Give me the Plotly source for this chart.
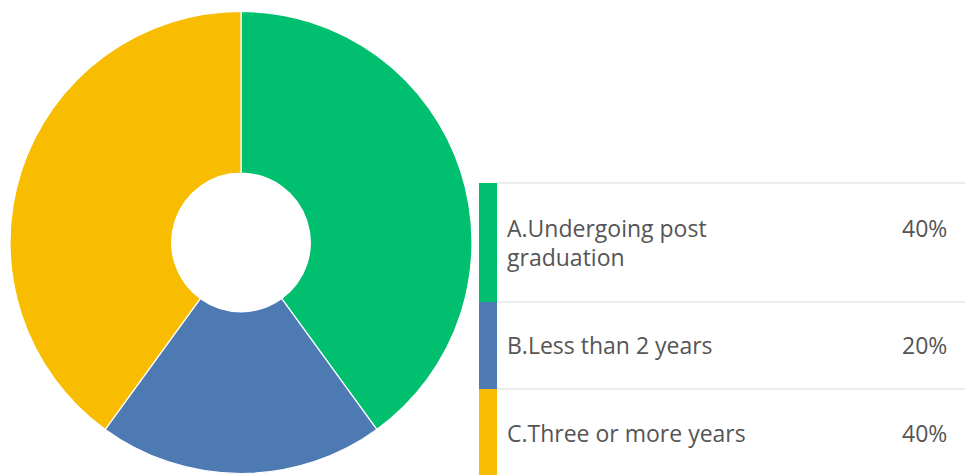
import plotly.graph_objects as go

labels = ["A.Undergoing post graduation", "B.Less than 2 years", "C.Three or more years"]
legend_lines = [["A.Undergoing post", "graduation"], ["B.Less than 2 years"], ["C.Three or more years"]]
values = [40, 20, 40]
pct_labels = ["40%", "20%", "40%"]
colors = ["#00BF6F", "#4E7AB4", "#F8BC00"]

W, H = 965, 475
FONT = dict(family="Open Sans", size=23, color="#555555")

def py(p):
    return 1 - p / H

def px(p):
    return p / W

fig = go.Figure()
fig.add_trace(go.Pie(
    labels=labels, values=values, sort=False, direction="clockwise", rotation=0,
    hole=0.30, marker=dict(colors=colors, line=dict(color="white", width=1.2)),
    textinfo="none", hoverinfo="label+percent", showlegend=False,
    domain=dict(x=[px(10), px(472)], y=[py(474), py(11)]),
))

# legend table rows (pixel boundaries)
row_bounds = [183, 302, 389, 476]
line_y = [[228, 257], [345], [433]]
shapes = []
annotations = []
for i in range(len(labels)):
    top, bot = row_bounds[i], row_bounds[i + 1]
    shapes.append(dict(type="rect", xref="paper", yref="paper",
                       x0=px(479), x1=px(497), y0=py(bot), y1=py(top),
                       fillcolor=colors[i], line=dict(width=0), layer="above"))
    shapes.append(dict(type="line", xref="paper", yref="paper",
                       x0=px(497), x1=1, y0=py(top), y1=py(top),
                       line=dict(color="#E6E6E6", width=1.5)))
    for txt, yy in zip(legend_lines[i], line_y[i]):
        annotations.append(dict(xref="paper", yref="paper", x=px(505), y=py(yy),
                                text=txt, showarrow=False, xanchor="left",
                                yanchor="middle", align="left", font=FONT))
    annotations.append(dict(xref="paper", yref="paper", x=px(949), y=py(line_y[i][0]),
                            text=pct_labels[i], showarrow=False, xanchor="right",
                            yanchor="middle", align="right", font=FONT))

fig.update_layout(width=W, height=H, margin=dict(l=0, r=0, t=0, b=0),
                  paper_bgcolor="white", plot_bgcolor="white",
                  shapes=shapes, annotations=annotations)
fig.write_html("out.html")
